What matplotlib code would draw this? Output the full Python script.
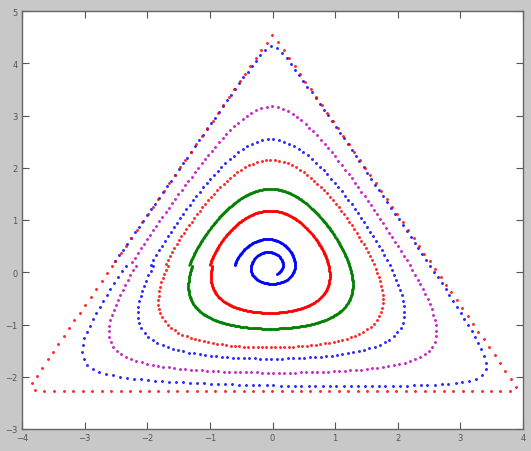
import numpy as np
import matplotlib
matplotlib.use("Agg")
import matplotlib.pyplot as plt

# Equilateral simplex centred on the origin
SIDE = 7.9
R = SIDE / np.sqrt(3)
VERTS = np.array([[0.0, R], [-SIDE / 2, -R / 2], [SIDE / 2, -R / 2]])

# Interior rest point of the cyclic dynamics (barycentric weights)
rest_point = [0.352, 0.330, 0.318]

# Orbits spiralling out from the rest point, one colour per revolution.
# size = fraction of the way from the rest point to the top vertex; turn = angle / (2*pi)
orbit_colors = ['b', 'r', 'g', 'r', 'b', 'm', 'b', 'r']
size_start = [0.045, 0.228, 0.320, 0.445, 0.530, 0.650, 0.740, 0.975]
size_end = [0.135, 0.240, 0.335, 0.460, 0.550, 0.700, 0.980, 0.997]
turn_start = [-0.15, 0.50, 0.50, 0.50, 0.50, 0.50, 0.50, 0.50]
turn_count = [1.65, 1.00, 1.00, 1.00, 1.00, 1.00, 1.00, 1.00]
dot_gap_px = [0.7, 0.7, 0.7, 4.5, 5.5, 5.5, 7.0, 9.5]
dot_size = [1.9, 1.9, 1.9, 2.1, 2.1, 2.1, 2.1, 2.1]

x_ticks = [-4, -3, -2, -1, 0, 1, 2, 3, 4]
y_ticks = [-3, -2, -1, 0, 1, 2, 3, 4, 5]

W, H = 531, 452
fig = plt.figure(figsize=(W / 100, H / 100), dpi=100, facecolor='#c8c8c8')
ax = fig.add_axes([22 / W, 22 / H, 501 / W, 418 / H])
ax.set_facecolor('white')
ax.set_xlim(-4, 4)
ax.set_ylim(-3, 5)
px_x = 501 / 8.0
px_y = 418 / 8.0

weights = np.array(rest_point)
centre = weights @ VERTS


def bary(p):
    a = VERTS[0] - VERTS[2]
    b = VERTS[1] - VERTS[2]
    M = np.array([[a[0], b[0]], [a[1], b[1]]])
    l12 = np.linalg.solve(M, (p - VERTS[2]).T).T
    l1, l2 = l12[:, 0], l12[:, 1]
    return np.stack([l1, l2, 1 - l1 - l2], axis=1)


def potential(p):
    lam = np.clip(bary(p), 1e-300, None)
    return np.log(lam) @ weights


V_MAX = potential(centre[None, :])[0]


def deficit_of(size):
    p = centre + size * (VERTS[0] - centre)
    return V_MAX - potential(p[None, :])[0]


def ray_to_deficit(theta, deficit):
    d = np.stack([np.cos(theta), np.sin(theta)], axis=1)
    lo = np.zeros(len(theta))
    hi = np.full(len(theta), 2 * R)
    target = V_MAX - deficit
    for _ in range(60):
        mid = 0.5 * (lo + hi)
        inside = potential(centre + d * mid[:, None]) > target
        lo = np.where(inside, mid, lo)
        hi = np.where(inside, hi, mid)
    return centre + d * (0.5 * (lo + hi))[:, None]


for col, s0, s1, t0, tn, gap, ms in zip(orbit_colors, size_start, size_end,
                                         turn_start, turn_count, dot_gap_px, dot_size):
    n = int(6000 * tn)
    frac = np.linspace(0, 1, n)
    theta = 2 * np.pi * (t0 + tn * frac)
    d0, d1 = deficit_of(s0), deficit_of(s1)
    deficit = d0 * (d1 / d0) ** frac
    pts = ray_to_deficit(theta, deficit)
    dx = np.diff(pts[:, 0]) * px_x
    dy = np.diff(pts[:, 1]) * px_y
    arc = np.concatenate([[0], np.cumsum(np.hypot(dx, dy))])
    marks = np.arange(0, arc[-1], gap)
    idx = np.searchsorted(arc, marks).clip(0, n - 1)
    ax.plot(pts[idx, 0], pts[idx, 1], linestyle='none', marker='o',
            markersize=ms, markeredgewidth=0, color=col, alpha=0.85)

ax.set_xticks(x_ticks)
ax.set_yticks(y_ticks)
ax.tick_params(direction='in', length=5, width=0.8, colors='#555555',
               labelsize=6, labelcolor='#555555', top=True, right=True, pad=3)
for s in ax.spines.values():
    s.set_color('#666666')
    s.set_linewidth(1.0)

fig.savefig('out.png', dpi=100, facecolor=fig.get_facecolor())
